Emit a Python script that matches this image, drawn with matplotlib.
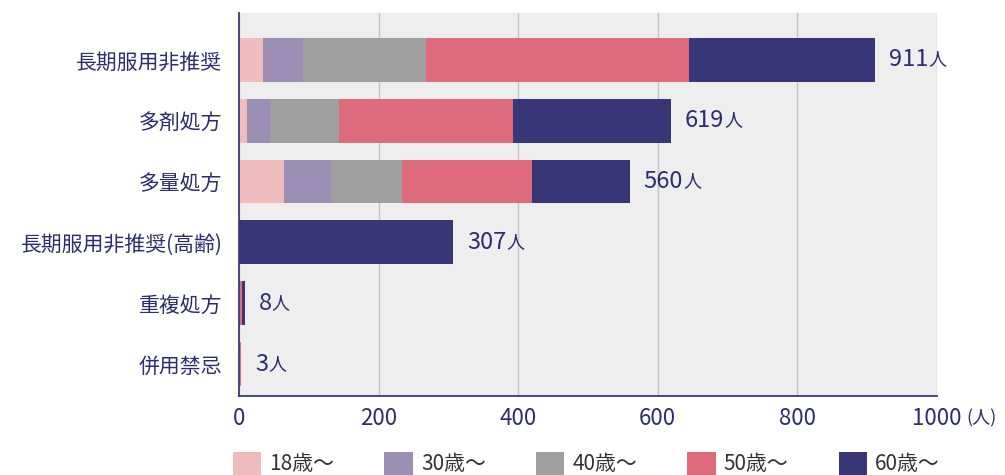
import numpy as np
import matplotlib.pyplot as plt
from matplotlib.patches import Patch

plt.rcParams['font.family'] = ['Noto Sans CJK JP', 'DejaVu Sans']

categories = ["長期服用非推奨", "多剤処方", "多量処方", "長期服用非推奨(高齢)", "重複処方", "併用禁忌"]
age_groups = ["18歳～", "30歳～", "40歳～", "50歳～", "60歳～"]
age18 = [34, 11, 64, 0, 0, 0]
age30 = [58, 33, 68, 0, 0, 0]
age40 = [176, 99, 102, 0, 0, 0]
age50 = [377, 249, 186, 0, 4, 3]
age60 = [266, 227, 140, 307, 4, 0]
totals = [911, 619, 560, 307, 8, 3]

colors = ["#efbbbd", "#9b8fb5", "#9fa09f", "#de6b7b", "#393678"]
navy = "#2b2d6e"

fig = plt.figure(figsize=(10.05, 4.75), dpi=100)
ax = fig.add_axes([0.2378, 0.1663, 0.6945, 0.8063])
ax.set_facecolor("#eeeeee")

y = np.arange(len(categories))
left = np.zeros(len(categories))
for vals, c, lab in zip([age18, age30, age40, age50, age60], colors, age_groups):
    ax.barh(y, vals, left=left, height=0.72, color=c, label=lab)
    left += np.array(vals)

for yi, tot in zip(y, totals):
    t = ax.annotate(str(tot), xy=(tot, yi), xytext=(10, 0), textcoords="offset points",
                    va="center", ha="left", fontsize=17, color=navy)
    ax.annotate("人", xy=(1, 0.12), xycoords=t, va="bottom", ha="left",
                fontsize=13, color=navy)

ax.set_xlim(0, 1000)
ax.set_ylim(5.525, -0.77)
ax.set_yticks(y)
ax.set_yticklabels(categories, fontsize=15, color=navy)
ax.set_xticks([0, 200, 400, 600, 800, 1000])
ax.set_xticklabels(["0", "200", "400", "600", "800", "1000"], fontsize=16, color=navy)
ax.tick_params(axis="y", length=0, pad=12)
ax.tick_params(axis="x", length=0, pad=8)
ax.text(1.042, -0.058, "(人)", transform=ax.transAxes, fontsize=13, color=navy,
        ha="left", va="center")

ax.set_axisbelow(True)
ax.xaxis.grid(True, color="#c4c4c4", linewidth=1.0)
for s in ["top", "right"]:
    ax.spines[s].set_visible(False)
for s in ["left", "bottom"]:
    ax.spines[s].set_color("#3a3a7a")
    ax.spines[s].set_linewidth(1.3)

handles = [Patch(facecolor=c, label=l) for c, l in zip(colors, age_groups)]
fig.legend(handles=handles, loc="lower left", bbox_to_anchor=(0.213, -0.04), ncol=5,
           frameon=False, fontsize=15, handlelength=1.35, handleheight=1.3,
           handletextpad=0.4, columnspacing=2.41, labelcolor="#333333")

fig.savefig("out.png", dpi=100)
